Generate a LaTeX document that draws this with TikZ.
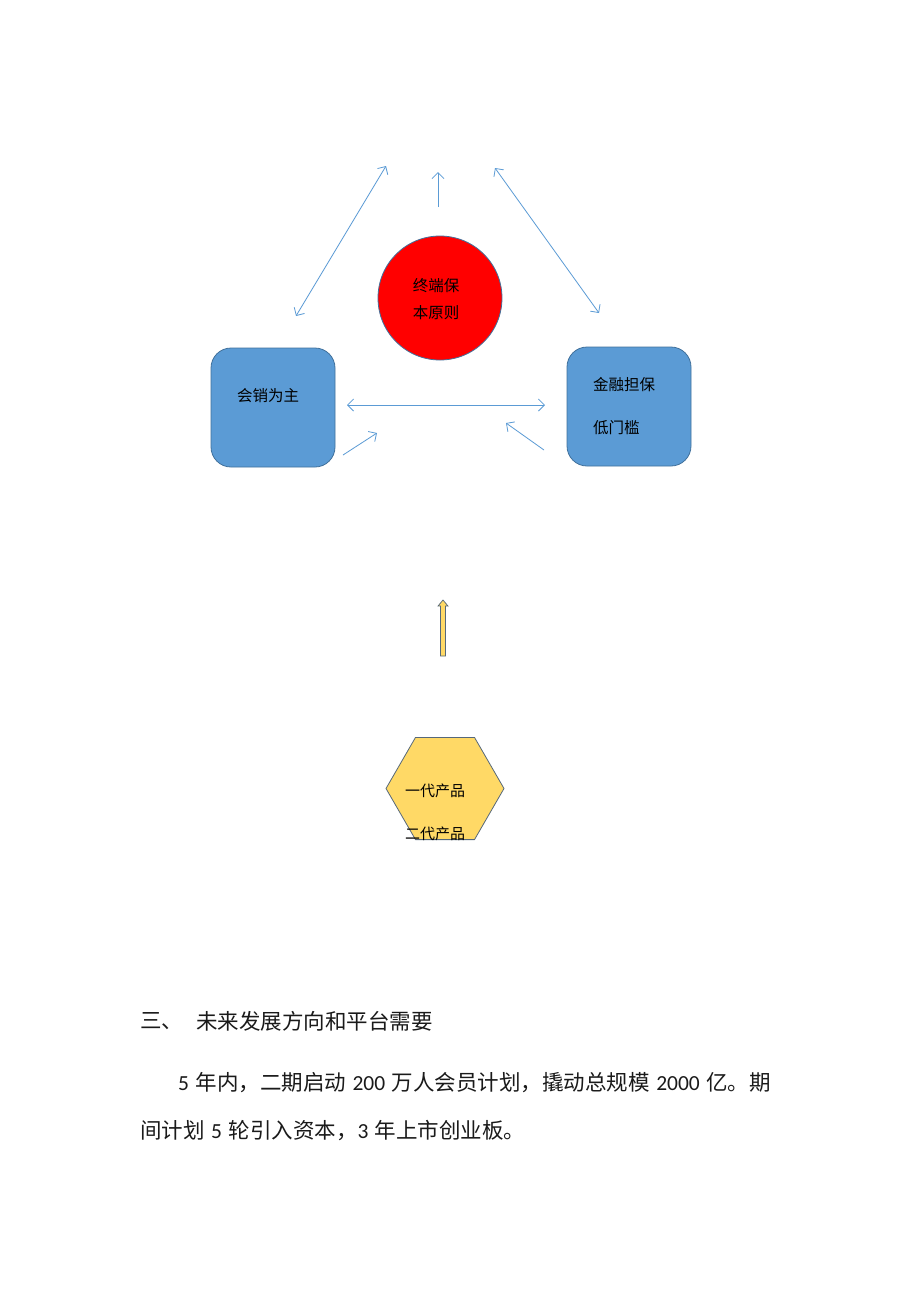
\documentclass[tikz,border=0pt]{standalone}
\usepackage{fontspec}
\setmainfont{Carlito}
\newfontfamily\cjk{Noto Sans CJK SC}
\newfontfamily\lat{Carlito}
\usetikzlibrary{arrows.meta,shapes.geometric}
\definecolor{arrblue}{HTML}{5B9BD5}
\definecolor{boxblue}{HTML}{5B9BD5}
\definecolor{boxedge}{HTML}{41719C}
\definecolor{hexfill}{HTML}{FFD966}
\definecolor{hexedge}{HTML}{56687A}
\definecolor{bodytext}{HTML}{1A1A1A}
\newcommand{\mysp}{\hspace{6.5pt}}
\tikzset{
  conn/.style={draw=arrblue, line width=0.8pt},
  tipA/.style={-{Straight Barb[length=6pt,width=12pt,line width=0.8pt]}},
  tipAA/.style={{Straight Barb[length=6pt,width=12pt,line width=0.8pt]}-{Straight Barb[length=6pt,width=12pt,line width=0.8pt]}},
  bluebox/.style={draw=boxedge, fill=boxblue, line width=0.8pt, rounded corners=20pt, minimum width=124pt, minimum height=119pt, inner sep=0pt},
  lbl/.style={inner sep=0pt, font=\cjk\fontsize{15.5}{18}\selectfont, text=black},
  body/.style={inner sep=0pt, anchor=west, font=\cjk\fontsize{21.5}{26}\selectfont, text=bodytext},
}
\begin{document}
\begin{tikzpicture}[x=1pt,y=-1pt]
\useasboundingbox[fill=white] (0,0) rectangle (920,1302);

% central circle
\node[circle, draw=boxedge, fill=red, line width=0.8pt, minimum size=124pt, inner sep=0pt] (core) at (440,298) {};
\node[lbl] (core1) at (436,286) {终端保};
\node[lbl] (core2) at (436,313) {本原则};

% boxes
\node[bluebox] (left) at (273,407.5) {};
\node[lbl, anchor=west] (left1) at (237,396) {会销为主};
\node[bluebox] (right) at (629,406.5) {};
\node[lbl, anchor=west] (right1) at (593,385) {金融担保};
\node[lbl, anchor=west] (right2) at (593,428) {低门槛};

% connector end points
\coordinate (ld1) at (296,316);
\coordinate (ld2) at (386,166);
\coordinate (t1) at (438,207);
\coordinate (t2) at (438,172);
\coordinate (rd1) at (495,168);
\coordinate (rd2) at (599,313);
\coordinate (h1) at (347,405);
\coordinate (h2) at (545,405);
\coordinate (s1) at (343,455);
\coordinate (s2) at (377,433);
\coordinate (q1) at (544,450);
\coordinate (q2) at (506,423);

\draw[conn, tipAA] (ld1) -- (ld2);
\draw[conn, tipA] (t1) -- (t2);
\draw[conn, tipAA] (rd1) -- (rd2);
\draw[conn, tipAA] (h1) -- (h2);
\draw[conn, tipA] (s1) -- (s2);
\draw[conn, tipA] (q1) -- (q2);

% yellow block arrow
\draw[draw=hexedge, fill=hexfill, line width=0.7pt, line join=miter]
  (440.5,656) -- (440.5,606) -- (438,606) -- (443,600) -- (448,606) -- (445.5,606) -- (445.5,656) -- cycle;

% hexagon
\node[regular polygon, regular polygon sides=6, draw=hexedge, fill=hexfill, line width=0.8pt, minimum size=118pt, inner sep=0pt] (hex) at (445,788.5) {};
\node[lbl, anchor=west, font=\cjk\fontsize{15}{18}\selectfont] (hex1) at (405,791) {一代产品};
\begin{scope}
  \clip (380,800) rectangle (520,840);
  \node[lbl, anchor=west, font=\cjk\fontsize{15}{18}\selectfont] (hex2) at (405,834) {二代产品};
\end{scope}

% body text
\node[body] (h) at (140,1021) {三、};
\node[body] (ht) at (196,1021) {未来发展方向和平台需要};
\node[body] (p1) at (178,1085) {\strut{\lat 5}\mysp 年内，二期启动\mysp{\lat 200}\mysp 万人会员计划，撬动总规模\mysp{\lat 2000}\mysp 亿。期};
\node[body] (p2) at (140,1133) {\strut 间计划\mysp{\lat 5}\mysp 轮引入资本，{\lat 3}\mysp 年上市创业板。};
\end{tikzpicture}
\end{document}
